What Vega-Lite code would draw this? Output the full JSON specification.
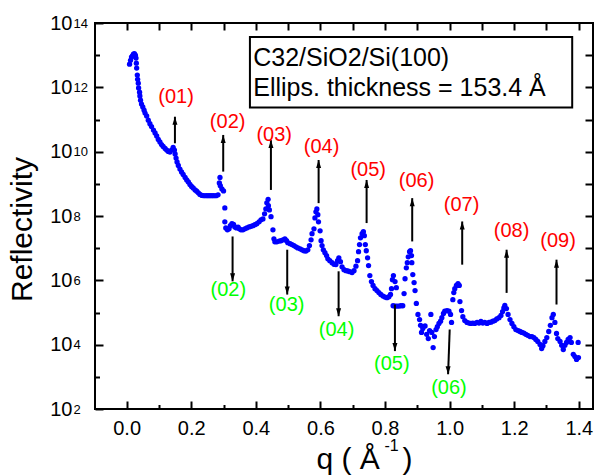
{
"$schema": "https://vega.github.io/schema/vega-lite/v6.json",
"width": 498, "height": 386,
"autosize": {"type": "none"},
"padding": {"left": 95, "top": 23, "right": 4, "bottom": 67},
"config": {
  "view": {"stroke": "black", "strokeWidth": 2},
  "font": "Liberation Sans",
  "axis": {"domain": false, "grid": false, "tickColor": "black", "tickWidth": 2, "labelColor": "black", "titleColor": "black", "labelFont": "Liberation Sans", "titleFont": "Liberation Sans", "titleFontWeight": "normal"}
},
"datasets": {
  "curve": [
    {"q":0.009,"R":5.25e12},{"q":0.012,"R":6.92e12},{"q":0.015,"R":8.71e12},{"q":0.018,"R":9.55e12},{"q":0.021,"R":1.07e13},{"q":0.024,"R":1.12e13},{"q":0.027,"R":1.0e13},{"q":0.029,"R":8.13e12},{"q":0.030,"R":5.62e12},{"q":0.031,"R":3.98e12},
    {"q":0.033,"R":2.40e12},{"q":0.034,"R":1.78e12},{"q":0.036,"R":1.35e12},{"q":0.037,"R":9.55e11},{"q":0.040,"R":7.08e11},{"q":0.041,"R":5.37e11},{"q":0.043,"R":3.98e11},{"q":0.046,"R":3.02e11},{"q":0.050,"R":2.45e11},{"q":0.054,"R":1.95e11},
    {"q":0.057,"R":1.58e11},{"q":0.062,"R":1.29e11},{"q":0.067,"R":9.55e10},{"q":0.072,"R":7.41e10},{"q":0.077,"R":6.03e10},{"q":0.083,"R":4.68e10},{"q":0.088,"R":3.80e10},{"q":0.093,"R":3.09e10},{"q":0.098,"R":2.40e10},{"q":0.103,"R":2.0e10},
    {"q":0.108,"R":1.66e10},{"q":0.113,"R":1.45e10},{"q":0.119,"R":1.26e10},{"q":0.124,"R":1.12e10},{"q":0.129,"R":1.02e10},{"q":0.134,"R":9.77e9},{"q":0.139,"R":1.12e10},{"q":0.144,"R":1.35e10},{"q":0.148,"R":1.12e10},{"q":0.150,"R":8.51e9},
    {"q":0.153,"R":6.31e9},{"q":0.156,"R":4.79e9},{"q":0.160,"R":3.72e9},{"q":0.165,"R":2.88e9},{"q":0.170,"R":2.34e9},{"q":0.175,"R":1.95e9},{"q":0.181,"R":1.58e9},{"q":0.186,"R":1.32e9},{"q":0.191,"R":1.15e9},{"q":0.196,"R":9.55e8},
    {"q":0.201,"R":8.32e8},{"q":0.206,"R":7.41e8},{"q":0.212,"R":6.46e8},{"q":0.217,"R":5.89e8},{"q":0.222,"R":5.25e8},{"q":0.227,"R":4.68e8},{"q":0.233,"R":4.37e8},{"q":0.239,"R":4.27e8},{"q":0.246,"R":4.27e8},{"q":0.252,"R":4.27e8},
    {"q":0.258,"R":4.27e8},{"q":0.264,"R":4.27e8},{"q":0.270,"R":4.27e8},{"q":0.277,"R":4.27e8},{"q":0.283,"R":4.57e8},{"q":0.287,"R":1.07e9},{"q":0.289,"R":1.58e9},{"q":0.290,"R":8.71e8},{"q":0.295,"R":6.92e8},{"q":0.300,"R":6.03e8},
    {"q":0.304,"R":1.78e8},{"q":0.304,"R":6.61e7},{"q":0.307,"R":4.27e7},{"q":0.312,"R":3.72e7},{"q":0.317,"R":3.98e7},{"q":0.321,"R":5.01e7},{"q":0.326,"R":5.75e7},{"q":0.331,"R":5.50e7},{"q":0.335,"R":4.57e7},{"q":0.340,"R":4.27e7},
    {"q":0.345,"R":4.47e7},{"q":0.349,"R":3.98e7},{"q":0.354,"R":3.72e7},{"q":0.360,"R":3.72e7},{"q":0.366,"R":3.98e7},{"q":0.372,"R":4.27e7},{"q":0.379,"R":4.57e7},{"q":0.385,"R":4.79e7},{"q":0.391,"R":5.01e7},{"q":0.397,"R":5.37e7},
    {"q":0.403,"R":5.75e7},{"q":0.410,"R":6.61e7},{"q":0.416,"R":7.59e7},{"q":0.422,"R":8.13e7},{"q":0.427,"R":1.17e8},{"q":0.431,"R":1.66e8},{"q":0.434,"R":2.57e8},{"q":0.438,"R":3.31e8},{"q":0.439,"R":2.09e8},{"q":0.442,"R":1.55e8},
    {"q":0.447,"R":9.55e7},{"q":0.453,"R":3.72e7},{"q":0.456,"R":1.95e7},{"q":0.459,"R":1.58e7},{"q":0.465,"R":1.58e7},{"q":0.472,"R":1.66e7},{"q":0.478,"R":1.70e7},{"q":0.484,"R":1.82e7},{"q":0.490,"R":1.95e7},{"q":0.495,"R":1.70e7},
    {"q":0.499,"R":1.48e7},{"q":0.506,"R":1.38e7},{"q":0.512,"R":1.29e7},{"q":0.518,"R":1.20e7},{"q":0.524,"R":1.10e7},{"q":0.530,"R":1.02e7},{"q":0.537,"R":9.55e6},{"q":0.543,"R":8.91e6},{"q":0.549,"R":8.32e6},{"q":0.555,"R":8.13e6},
    {"q":0.561,"R":8.91e6},{"q":0.566,"R":1.20e7},{"q":0.571,"R":1.82e7},{"q":0.574,"R":2.82e7},{"q":0.580,"R":3.98e7},{"q":0.583,"R":8.71e7},{"q":0.586,"R":1.35e8},{"q":0.589,"R":1.66e8},{"q":0.592,"R":1.10e8},{"q":0.594,"R":6.61e7},
    {"q":0.599,"R":3.47e7},{"q":0.602,"R":1.70e7},{"q":0.605,"R":1.20e7},{"q":0.609,"R":8.91e6},{"q":0.614,"R":7.24e6},{"q":0.619,"R":5.89e6},{"q":0.623,"R":4.68e6},{"q":0.629,"R":4.07e6},{"q":0.636,"R":3.55e6},{"q":0.642,"R":3.16e6},
    {"q":0.648,"R":3.09e6},{"q":0.653,"R":4.07e6},{"q":0.657,"R":5.01e6},{"q":0.662,"R":3.80e6},{"q":0.667,"R":2.63e6},{"q":0.673,"R":2.14e6},{"q":0.679,"R":2.0e6},{"q":0.685,"R":1.95e6},{"q":0.691,"R":1.86e6},{"q":0.698,"R":1.74e6},
    {"q":0.704,"R":2.0e6},{"q":0.710,"R":2.75e6},{"q":0.715,"R":4.07e6},{"q":0.718,"R":7.76e6},{"q":0.721,"R":1.29e7},{"q":0.724,"R":2.09e7},{"q":0.729,"R":2.82e7},{"q":0.733,"R":3.24e7},{"q":0.736,"R":2.45e7},{"q":0.739,"R":1.29e7},
    {"q":0.742,"R":8.32e6},{"q":0.746,"R":5.01e6},{"q":0.749,"R":2.88e6},{"q":0.753,"R":1.41e6},{"q":0.758,"R":9.12e5},{"q":0.763,"R":6.92e5},{"q":0.769,"R":5.50e5},{"q":0.775,"R":4.79e5},{"q":0.781,"R":4.17e5},{"q":0.787,"R":3.63e5},
    {"q":0.794,"R":3.24e5},{"q":0.800,"R":3.02e5},{"q":0.806,"R":2.88e5},{"q":0.812,"R":3.09e5},{"q":0.817,"R":3.63e5},{"q":0.820,"R":5.50e5},{"q":0.823,"R":1.05e6},{"q":0.826,"R":1.41e6},{"q":0.831,"R":9.12e5},{"q":0.835,"R":5.89e5},
    {"q":0.825,"R":1.62e5},{"q":0.831,"R":1.58e5},{"q":0.837,"R":1.58e5},{"q":0.843,"R":1.58e5},{"q":0.849,"R":1.62e5},{"q":0.855,"R":1.62e5},{"q":0.859,"R":3.89e5},{"q":0.862,"R":1.12e6},{"q":0.866,"R":2.45e6},{"q":0.869,"R":3.55e6},
    {"q":0.872,"R":5.37e6},{"q":0.876,"R":7.76e6},{"q":0.879,"R":8.32e6},{"q":0.882,"R":5.89e6},{"q":0.883,"R":3.55e6},{"q":0.886,"R":1.51e6},{"q":0.890,"R":8.51e5},{"q":0.893,"R":4.79e5},{"q":0.897,"R":1.91e5},{"q":0.902,"R":8.71e4},
    {"q":0.907,"R":6.03e4},{"q":0.910,"R":3.98e4},{"q":0.913,"R":2.40e4},{"q":0.917,"R":3.16e4},{"q":0.924,"R":3.80e4},{"q":0.929,"R":2.09e4},{"q":0.934,"R":1.55e4},{"q":0.938,"R":2.75e4},{"q":0.942,"R":8.71e4},{"q":0.945,"R":2.40e4},
    {"q":0.949,"R":8.13e3},{"q":0.953,"R":1.78e4},{"q":0.958,"R":2.95e4},{"q":0.962,"R":3.63e4},{"q":0.967,"R":4.57e4},{"q":0.972,"R":5.37e4},{"q":0.976,"R":6.92e4},{"q":0.981,"R":9.33e4},{"q":0.985,"R":1.10e5},{"q":0.992,"R":1.15e5},
    {"q":0.998,"R":1.10e5},{"q":1.003,"R":8.71e4},{"q":1.006,"R":4.90e4},{"q":1.010,"R":2.51e5},{"q":1.013,"R":4.17e5},{"q":1.016,"R":5.50e5},{"q":1.021,"R":6.92e5},{"q":1.026,"R":7.94e5},{"q":1.030,"R":6.92e5},{"q":1.032,"R":2.19e5},
    {"q":1.037,"R":1.15e5},{"q":1.041,"R":7.41e4},{"q":1.047,"R":5.62e4},{"q":1.054,"R":4.90e4},{"q":1.060,"R":4.68e4},{"q":1.066,"R":4.57e4},{"q":1.072,"R":4.68e4},{"q":1.078,"R":4.57e4},{"q":1.085,"R":4.90e4},{"q":1.091,"R":4.68e4},
    {"q":1.097,"R":5.25e4},{"q":1.103,"R":4.68e4},{"q":1.109,"R":4.90e4},{"q":1.116,"R":4.57e4},{"q":1.122,"R":4.90e4},{"q":1.128,"R":5.01e4},{"q":1.134,"R":5.37e4},{"q":1.140,"R":5.62e4},{"q":1.146,"R":6.31e4},{"q":1.153,"R":6.92e4},
    {"q":1.159,"R":8.13e4},{"q":1.164,"R":1.07e5},{"q":1.168,"R":1.38e5},{"q":1.171,"R":1.66e5},{"q":1.176,"R":1.32e5},{"q":1.181,"R":8.71e4},{"q":1.187,"R":6.03e4},{"q":1.193,"R":4.57e4},{"q":1.199,"R":3.63e4},{"q":1.205,"R":2.95e4},
    {"q":1.212,"R":2.75e4},{"q":1.218,"R":2.57e4},{"q":1.224,"R":2.40e4},{"q":1.230,"R":2.29e4},{"q":1.236,"R":2.09e4},{"q":1.242,"R":1.95e4},{"q":1.249,"R":1.78e4},{"q":1.255,"R":1.78e4},{"q":1.261,"R":1.66e4},{"q":1.267,"R":1.45e4},
    {"q":1.273,"R":1.26e4},{"q":1.280,"R":1.02e4},{"q":1.285,"R":7.59e3},{"q":1.289,"R":9.33e3},{"q":1.295,"R":1.26e4},{"q":1.301,"R":1.66e4},{"q":1.307,"R":2.57e4},{"q":1.312,"R":3.98e4},{"q":1.317,"R":6.92e4},{"q":1.321,"R":8.71e4},
    {"q":1.326,"R":4.90e4},{"q":1.331,"R":2.24e4},{"q":1.335,"R":1.55e4},{"q":1.342,"R":1.26e4},{"q":1.347,"R":9.55e3},{"q":1.352,"R":7.08e3},{"q":1.357,"R":9.55e3},{"q":1.362,"R":1.17e4},{"q":1.367,"R":1.45e4},{"q":1.373,"R":1.66e4},
    {"q":1.377,"R":1.17e4},{"q":1.383,"R":5.01e3},{"q":1.388,"R":4.27e3},{"q":1.393,"R":3.47e3},{"q":1.398,"R":1.17e4},{"q":1.399,"R":3.98e3}
  ],
  "arrows": [
    {"q":0.1495,"q2":0.1495,"from":1.82e10,"to":1.22e11,"dir":"up"},
    {"q":0.299,"q2":0.299,"from":2.40e9,"to":3.31e10,"dir":"up"},
    {"q":0.4467,"q2":0.4467,"from":6.46e8,"to":2.29e10,"dir":"up"},
    {"q":0.5944,"q2":0.5944,"from":2.51e8,"to":5.50e9,"dir":"up"},
    {"q":0.743,"q2":0.743,"from":6.03e7,"to":1.32e9,"dir":"up"},
    {"q":0.8842,"q2":0.8842,"from":1.62e7,"to":3.59e8,"dir":"up"},
    {"q":1.039,"q2":1.039,"from":3.07e6,"to":6.76e7,"dir":"up"},
    {"q":1.1765,"q2":1.1765,"from":4.07e5,"to":8.95e6,"dir":"up"},
    {"q":1.331,"q2":1.331,"from":1.77e5,"to":4.39e6,"dir":"up"},
    {"q":0.328,"q2":0.328,"from":2.31e7,"to":9.31e5,"dir":"down"},
    {"q":0.4972,"q2":0.4972,"from":8.95e6,"to":3.61e5,"dir":"down"},
    {"q":0.6563,"q2":0.6563,"from":1.91e6,"to":7.66e4,"dir":"down"},
    {"q":0.8307,"q2":0.8307,"from":1.77e5,"to":6.31e3,"dir":"down"},
    {"q":1.0003,"q2":0.9953,"from":2.95e4,"to":1.20e3,"dir":"down"}
  ],
  "labels": [
    {"q":0.153,"R":5.07e11,"t":"(01)","kind":"max"},
    {"q":0.3127,"R":8.51e10,"t":"(02)","kind":"max"},
    {"q":0.457,"R":3.31e10,"t":"(03)","kind":"max"},
    {"q":0.6037,"R":1.43e10,"t":"(04)","kind":"max"},
    {"q":0.748,"R":2.69e9,"t":"(05)","kind":"max"},
    {"q":0.8978,"R":1.23e9,"t":"(06)","kind":"max"},
    {"q":1.037,"R":2.22e8,"t":"(07)","kind":"max"},
    {"q":1.192,"R":3.31e7,"t":"(08)","kind":"max"},
    {"q":1.336,"R":1.62e7,"t":"(09)","kind":"max"},
    {"q":0.3146,"R":5.13e5,"t":"(02)","kind":"min"},
    {"q":0.4954,"R":1.66e5,"t":"(03)","kind":"min"},
    {"q":0.650,"R":2.82e4,"t":"(04)","kind":"min"},
    {"q":0.821,"R":2.45e3,"t":"(05)","kind":"min"},
    {"q":0.998,"R":457,"t":"(06)","kind":"min"}
  ],
  "box": [{"x1":0.3817,"x2":1.3796,"y1":3.68e13,"y2":2.38e11}],
  "boxtext": [
    {"q":0.392,"R":8.04e12,"t":"C32/SiO2/Si(100)"},
    {"q":0.392,"R":9.44e11,"t":"Ellips. thickness = 153.4 Å"}
  ]
},
"layer": [
  {
    "data": {"name": "curve"},
    "mark": {"type": "circle", "size": 28, "color": "#0000ff", "opacity": 1},
    "encoding": {
      "x": {"field": "q", "type": "quantitative",
        "scale": {"domain": [-0.098, 1.444], "nice": false, "zero": false},
        "axis": {"orient": "bottom", "values": [0, 0.2, 0.4, 0.6, 0.8, 1.0, 1.2, 1.4], "format": ".1f", "tickSize": -8, "labelPadding": 17, "labelFontSize": 20, "labelFlush": false, "title": "q ( Å", "titleFontSize": 30, "titleAlign": "left", "titleBaseline": "alphabetic", "titleX": 221, "titleY": 59}},
      "y": {"field": "R", "type": "quantitative",
        "scale": {"type": "log", "domain": [100, 1e14], "nice": false},
        "axis": {"orient": "left", "values": [1e2, 1e4, 1e6, 1e8, 1e10, 1e12, 1e14], "tickSize": -8, "labelPadding": 31, "labelFontSize": 20, "labelFlush": false, "labelBaseline": "middle", "labelDy": 2,
          "labelExpr": "'10'",
          "title": "Reflectivity", "titleFontSize": 30, "titlePadding": 12, "titleY": 206}}
    }
  },
  {
    "data": {"name": "arrows"},
    "mark": {"type": "rule", "color": "black", "strokeWidth": 2},
    "encoding": {
      "x": {"field": "q", "type": "quantitative", "axis": {"orient": "bottom", "values": [0.1, 0.3, 0.5, 0.7, 0.9, 1.1, 1.3], "tickSize": -4.5, "labels": false, "title": "-1", "titleFontSize": 16, "titleAlign": "left", "titleBaseline": "middle", "titleX": 289, "titleY": 36}},
      "x2": {"field": "q2"},
      "y": {"field": "from", "type": "quantitative", "axis": {"orient": "left", "values": [1e3, 1e5, 1e7, 1e9, 1e11, 1e13], "tickSize": -4.5, "labels": false, "title": null}},
      "y2": {"field": "to"}
    }
  },
  {
    "data": {"name": "arrows"},
    "transform": [{"filter": "datum.dir == 'up'"}],
    "mark": {"type": "point", "shape": "M0,0L-1,3.2L1,3.2Z", "filled": true, "color": "black", "opacity": 1, "size": 25, "strokeWidth": 0},
    "encoding": {
      "x": {"field": "q", "type": "quantitative", "axis": {"orient": "top", "values": [0, 0.1, 0.2, 0.3, 0.4, 0.5, 0.6, 0.7, 0.8, 0.9, 1.0, 1.1, 1.2, 1.3, 1.4], "tickSize": -7, "labels": false, "title": null}},
      "y": {"field": "to", "type": "quantitative", "axis": {"orient": "right", "values": [1e3, 1e4, 1e5, 1e6, 1e7, 1e8, 1e9, 1e10, 1e11, 1e12, 1e13], "tickSize": -8, "labels": false, "title": null}}
    }
  },
  {
    "data": {"name": "arrows"},
    "transform": [{"filter": "datum.dir == 'down'"}],
    "mark": {"type": "point", "shape": "M0,0L-1,-3.2L1,-3.2Z", "filled": true, "color": "black", "opacity": 1, "size": 25, "strokeWidth": 0},
    "encoding": {
      "x": {"field": "q2", "type": "quantitative", "axis": {"orient": "bottom", "ticks": false, "labels": false, "title": ")", "titleFontSize": 30, "titleAlign": "left", "titleBaseline": "alphabetic", "titleX": 307, "titleY": 59}},
      "y": {"field": "to", "type": "quantitative", "axis": {"orient": "left", "values": [1e2, 1e4, 1e6, 1e8, 1e10, 1e12, 1e14], "ticks": false, "labelPadding": 22, "labelAlign": "left", "labelBaseline": "middle", "labelDy": -7, "labelFontSize": 13, "labelFlush": false, "labelExpr": "'' + round(log(datum.value)/LN10)", "title": null}}
    }
  },
  {
    "data": {"name": "labels"},
    "mark": {"type": "text", "fontSize": 20, "align": "center", "baseline": "middle", "font": "Liberation Sans"},
    "encoding": {
      "x": {"field": "q", "type": "quantitative", "axis": null},
      "y": {"field": "R", "type": "quantitative", "axis": null},
      "text": {"field": "t"},
      "color": {"field": "kind", "type": "nominal", "scale": {"domain": ["max", "min"], "range": ["#ff0000", "#00ff00"]}, "legend": null}
    }
  },
  {
    "data": {"name": "box"},
    "mark": {"type": "rect", "fill": "white", "stroke": "black", "strokeWidth": 2},
    "encoding": {
      "x": {"field": "x1", "type": "quantitative", "axis": null},
      "x2": {"field": "x2"},
      "y": {"field": "y1", "type": "quantitative", "axis": null},
      "y2": {"field": "y2"}
    }
  },
  {
    "data": {"name": "boxtext"},
    "mark": {"type": "text", "fontSize": 25, "align": "left", "baseline": "middle", "color": "black", "font": "Liberation Sans"},
    "encoding": {
      "x": {"field": "q", "type": "quantitative", "axis": null},
      "y": {"field": "R", "type": "quantitative", "axis": null},
      "text": {"field": "t"}
    }
  }
],
"resolve": {"axis": {"x": "independent", "y": "independent"}}
}
